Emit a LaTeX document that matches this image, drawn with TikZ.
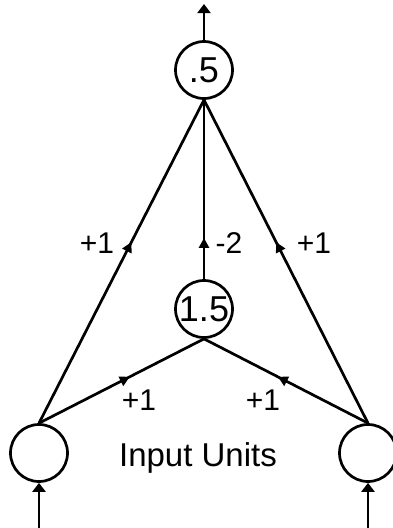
\documentclass[tikz,border=0pt]{standalone}
\usepackage{fontspec}
\setmainfont{Liberation Sans}
\usetikzlibrary{arrows.meta,decorations.markings}
\begin{document}
\begin{tikzpicture}[x=1pt,y=-1pt,
  unit/.style={draw,circle,line width=2.7pt,minimum size=57pt,inner sep=0pt,font=\fontsize{36}{37}\selectfont},
  wlabel/.style={anchor=base,inner sep=0pt,font=\fontsize{30}{31}\selectfont},
  conn/.style={line width=2.7pt},
  midarrow/.style={postaction={decorate},decoration={markings,
     mark=at position #1 with {\arrow{Triangle[length=10pt,width=10pt]}}}},
  endarrow/.style={-{Triangle[length=9pt,width=13pt]}}]
\useasboundingbox (0,0) rectangle (392,528);
\node[unit] (top) at (204,70) {.5};
\node[unit] (mid) at (204,309) {1.5};
\node[unit] (inL) at (39,453) {};
\node[unit] (inR) at (368,453) {};
\coordinate (out) at (204,4);
\coordinate (srcL) at (39,530);
\coordinate (srcR) at (368,530);
\draw[conn,endarrow] (top.north) -- (out);
\draw[conn,endarrow] (srcL) -- (inL.south);
\draw[conn,endarrow] (srcR) -- (inR.south);
\draw[conn,midarrow=0.56] (inL.north) -- (top.south);
\draw[conn,midarrow=0.56] (inR.north) -- (top.south);
\draw[conn,midarrow=0.23] (mid.north) -- (top.south);
\draw[conn,midarrow=0.55] (inL.north) -- (mid.south);
\draw[conn,midarrow=0.55] (inR.north) -- (mid.south);
\node[wlabel] (lA) at (97,253) {+1};
\node[wlabel] (lB) at (229,253) {-2};
\node[wlabel] (lC) at (314,253) {+1};
\node[wlabel] (lD) at (139,410) {+1};
\node[wlabel] (lE) at (263,410) {+1};
\node[wlabel,font=\fontsize{33}{34}\selectfont] (cap) at (198,466) {Input Units};
\end{tikzpicture}
\end{document}
